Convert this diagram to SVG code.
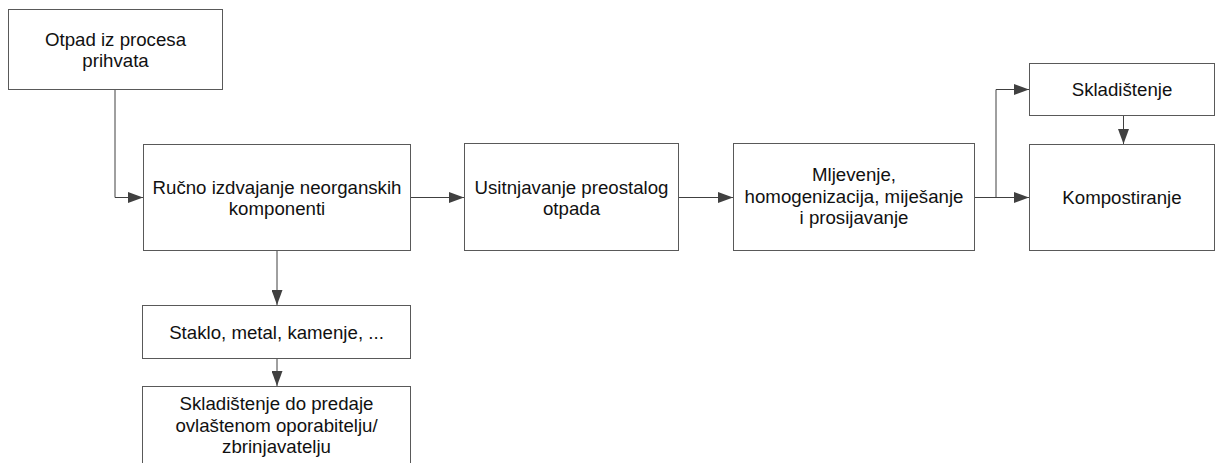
<svg xmlns="http://www.w3.org/2000/svg" width="1215" height="463" viewBox="0 0 1215 463">
<defs>
<style>
.box{fill:#fff;stroke:#595959;stroke-width:1}
.t{font-family:"Liberation Sans",Arial,sans-serif;font-size:18.67px;fill:#111;text-anchor:middle}
.c{fill:none;stroke:#404040;stroke-width:1}
</style>
<marker id="ah" markerWidth="15" markerHeight="11" refX="15" refY="5.5" orient="auto" markerUnits="userSpaceOnUse">
<path d="M0,0 L15,5.5 L0,11 Z" fill="#404040"/>
</marker>
</defs>
<rect width="1215" height="463" fill="#fff"/>
<g id="connectors">
<path class="c" d="M115,89 V197.5 H143" marker-end="url(#ah)"/>
<path class="c" d="M411,197.5 H464" marker-end="url(#ah)"/>
<path class="c" d="M679,197.5 H733" marker-end="url(#ah)"/>
<path class="c" d="M975,197.5 H1029" marker-end="url(#ah)"/>
<path class="c" d="M996,197.5 V89.5 H1029" marker-end="url(#ah)"/>
<path class="c" d="M1123.5,116 V144" marker-end="url(#ah)"/>
<path class="c" d="M277,251 V305" marker-end="url(#ah)"/>
<path class="c" d="M277,359 V386" marker-end="url(#ah)"/>
</g>
<g id="n1">
<rect class="box" x="8.5" y="9.5" width="214" height="80"/>
<text class="t" x="115.5" y="46">Otpad iz procesa</text>
<text class="t" x="115.5" y="66.5">prihvata</text>
</g>
<g id="n2">
<rect class="box" x="143.5" y="144.5" width="267" height="106"/>
<text class="t" x="277" y="193.5">Ručno izdvajanje neorganskih</text>
<text class="t" x="277" y="214.5">komponenti</text>
</g>
<g id="n3">
<rect class="box" x="464.5" y="143.5" width="214" height="107"/>
<text class="t" x="571.5" y="193.5">Usitnjavanje preostalog</text>
<text class="t" x="571.5" y="214.5">otpada</text>
</g>
<g id="n4">
<rect class="box" x="733.5" y="143.5" width="241" height="107"/>
<text class="t" x="854" y="181">Mljevenje,</text>
<text class="t" x="854" y="202.5">homogenizacija, miješanje</text>
<text class="t" x="854" y="224">i prosijavanje</text>
</g>
<g id="n5">
<rect class="box" x="1029.5" y="63.5" width="185" height="52"/>
<text class="t" x="1122" y="96">Skladištenje</text>
</g>
<g id="n6">
<rect class="box" x="1029.5" y="144.5" width="185" height="106"/>
<text class="t" x="1122" y="204">Kompostiranje</text>
</g>
<g id="n7">
<rect class="box" x="142.5" y="305.5" width="268" height="53"/>
<text class="t" x="276.5" y="338.5">Staklo, metal, kamenje, ...</text>
</g>
<g id="n8">
<rect class="box" x="142.5" y="386.5" width="268" height="90"/>
<text class="t" x="276.5" y="410">Skladištenje do predaje</text>
<text class="t" x="276.5" y="431.5">ovlaštenom oporabitelju/</text>
<text class="t" x="276.5" y="453">zbrinjavatelju</text>
</g>
</svg>
